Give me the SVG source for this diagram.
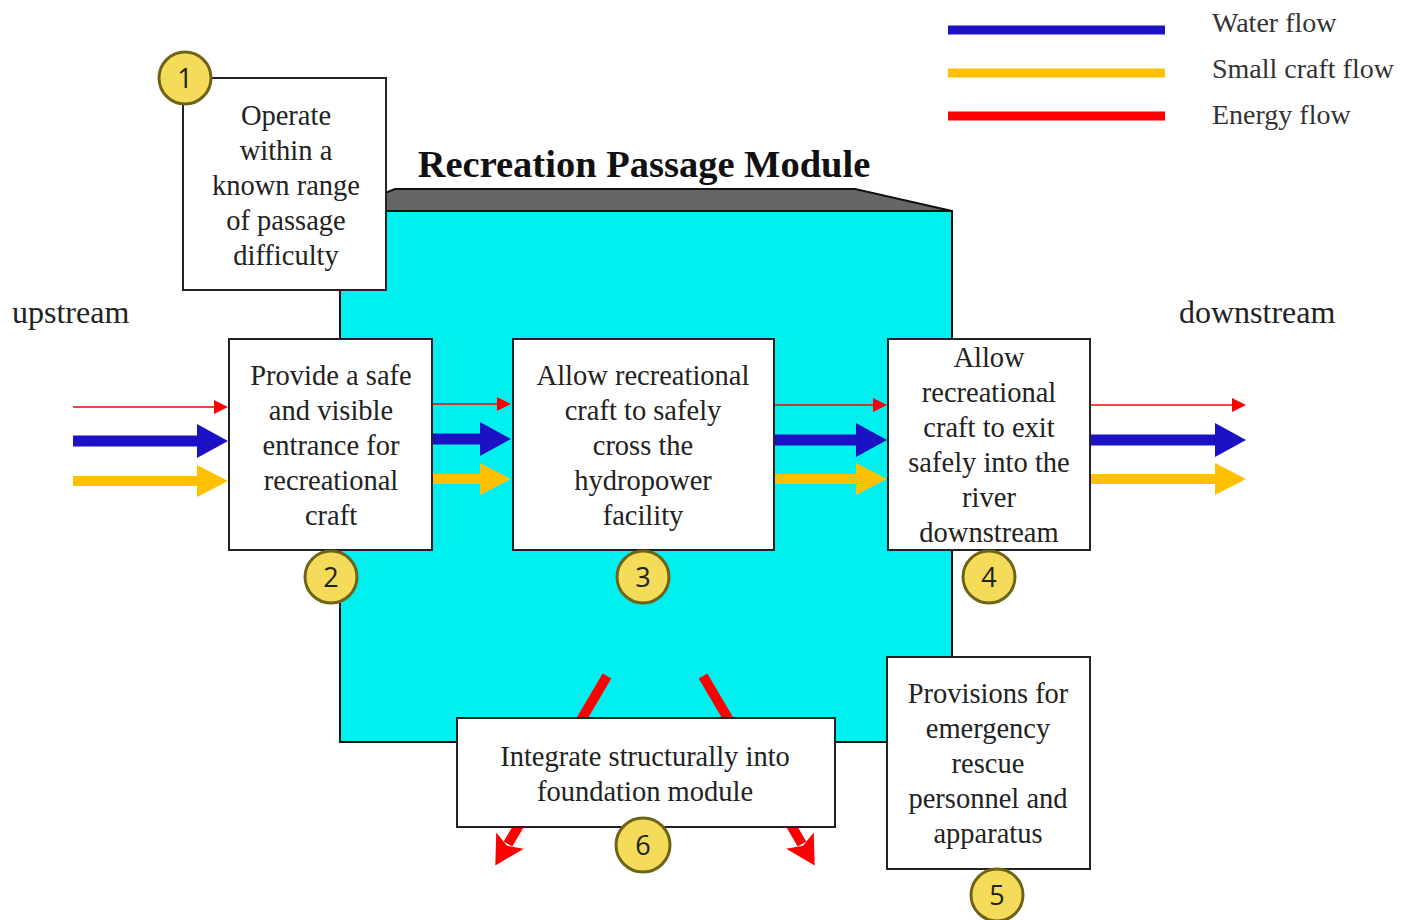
<svg xmlns="http://www.w3.org/2000/svg" width="1402" height="920" viewBox="0 0 1402 920">
  <style>
    .box { fill: #ffffff; stroke: #222222; stroke-width: 2; }
    .lbl { font-family: "Liberation Serif", "Times New Roman", serif; font-size: 28.5px; fill: #222222; text-anchor: middle; }
    .side { font-family: "Liberation Serif", "Times New Roman", serif; font-size: 32px; fill: #222222; }
    .leg { font-family: "Liberation Serif", "Times New Roman", serif; font-size: 28px; fill: #333333; }
    .badge circle { fill: #F4DC5A; stroke: #6E6418; stroke-width: 3; }
    .badge text { font-family: "Open Sans", "Noto Sans", sans-serif; font-size: 27px; fill: #222222; text-anchor: middle; }
    .energy { stroke: #FF0000; stroke-width: 1.3; fill: none; }
    .water { stroke: #1C12C4; stroke-width: 11; fill: none; }
    .craft { stroke: #FFC000; stroke-width: 10; fill: none; }
    .heavy { stroke: #FF0000; stroke-width: 10; fill: none; }
  </style>
  <defs>
    <!-- heads are anchored at their base; each shaft ends where its head begins -->
    <marker id="hEnergy" markerUnits="userSpaceOnUse" markerWidth="16" markerHeight="16" viewBox="0 0 16 16" refX="1" refY="8" orient="auto">
      <path d="M1,1 L15,8 L1,15 Z" fill="#FF0000"/>
    </marker>
    <marker id="hWater" markerUnits="userSpaceOnUse" markerWidth="32" markerHeight="34" viewBox="0 0 32 34" refX="1" refY="17" orient="auto">
      <path d="M0,0 L31,17 L0,34 Z" fill="#1C12C4"/>
    </marker>
    <marker id="hCraft" markerUnits="userSpaceOnUse" markerWidth="32" markerHeight="32" viewBox="0 0 32 32" refX="1" refY="16" orient="auto">
      <path d="M0,0 L31,16 L0,32 Z" fill="#FFC000"/>
    </marker>
    <marker id="hHeavy" markerUnits="userSpaceOnUse" markerWidth="30" markerHeight="32" viewBox="0 0 30 32" refX="4" refY="16" orient="auto">
      <path d="M0,0 L29,16 L0,32 L6,16 Z" fill="#FF0000"/>
    </marker>
  </defs>

  <rect width="1402" height="920" fill="#ffffff"/>

  <!-- legend -->
  <g id="legend">
    <line x1="948" y1="30" x2="1165" y2="30" stroke="#1C12C4" stroke-width="9"/>
    <line x1="948" y1="73" x2="1165" y2="73" stroke="#FFC000" stroke-width="9"/>
    <line x1="948" y1="116" x2="1165" y2="116" stroke="#FF0000" stroke-width="9"/>
    <text class="leg" x="1212" y="32">Water flow</text>
    <text class="leg" x="1212" y="78">Small craft flow</text>
    <text class="leg" x="1212" y="124">Energy flow</text>
  </g>

  <!-- module housing -->
  <g id="module">
    <polygon points="340,211 395,189 855,189 952,211" fill="#666666" stroke="#111111" stroke-width="2"/>
    <rect x="340" y="211" width="612" height="531" fill="#00F0F0" stroke="#111111" stroke-width="2"/>
    <text x="644" y="177" font-family="'Liberation Serif', 'Times New Roman', serif" font-size="38.5" font-weight="bold" fill="#111111" text-anchor="middle">Recreation Passage Module</text>
  </g>

  <text class="side" x="12" y="323">upstream</text>
  <text class="side" x="1179" y="323">downstream</text>

  <!-- flows -->
  <g id="connectors">
    <line class="energy" x1="73" y1="407" x2="214" y2="407" marker-end="url(#hEnergy)"/>
    <line class="water" x1="73" y1="441" x2="198" y2="441" marker-end="url(#hWater)"/>
    <line class="craft" x1="73" y1="481" x2="198" y2="481" marker-end="url(#hCraft)"/>

    <line class="energy" x1="432" y1="404" x2="497" y2="404" marker-end="url(#hEnergy)"/>
    <line class="water" x1="432" y1="439" x2="481" y2="439" marker-end="url(#hWater)"/>
    <line class="craft" x1="432" y1="479" x2="481" y2="479" marker-end="url(#hCraft)"/>

    <line class="energy" x1="774" y1="405" x2="873" y2="405" marker-end="url(#hEnergy)"/>
    <line class="water" x1="774" y1="440" x2="857" y2="440" marker-end="url(#hWater)"/>
    <line class="craft" x1="774" y1="479" x2="857" y2="479" marker-end="url(#hCraft)"/>

    <line class="energy" x1="1090" y1="405" x2="1232" y2="405" marker-end="url(#hEnergy)"/>
    <line class="water" x1="1090" y1="440" x2="1216" y2="440" marker-end="url(#hWater)"/>
    <line class="craft" x1="1090" y1="479" x2="1216" y2="479" marker-end="url(#hCraft)"/>

    <line class="heavy" x1="607" y1="676" x2="508" y2="844" marker-end="url(#hHeavy)"/>
    <line class="heavy" x1="703" y1="676" x2="802" y2="844" marker-end="url(#hHeavy)"/>
  </g>

  <!-- function 1 -->
  <g id="node1">
    <rect class="box" x="183" y="78" width="203" height="212"/>
    <text class="lbl" x="286" y="125">Operate</text>
    <text class="lbl" x="286" y="160">within a</text>
    <text class="lbl" x="286" y="195">known range</text>
    <text class="lbl" x="286" y="230">of passage</text>
    <text class="lbl" x="286" y="265">difficulty</text>
    <g class="badge"><circle cx="185" cy="78" r="26"/><text x="185" y="88">1</text></g>
  </g>

  <!-- function 2 -->
  <g id="node2">
    <rect class="box" x="229" y="339" width="203" height="211"/>
    <text class="lbl" x="331" y="385">Provide a safe</text>
    <text class="lbl" x="331" y="420">and visible</text>
    <text class="lbl" x="331" y="455">entrance for</text>
    <text class="lbl" x="331" y="490">recreational</text>
    <text class="lbl" x="331" y="525">craft</text>
    <g class="badge"><circle cx="331" cy="577" r="26"/><text x="331" y="587">2</text></g>
  </g>

  <!-- function 3 -->
  <g id="node3">
    <rect class="box" x="513" y="339" width="261" height="211"/>
    <text class="lbl" x="643" y="385">Allow recreational</text>
    <text class="lbl" x="643" y="420">craft to safely</text>
    <text class="lbl" x="643" y="455">cross the</text>
    <text class="lbl" x="643" y="490">hydropower</text>
    <text class="lbl" x="643" y="525">facility</text>
    <g class="badge"><circle cx="643" cy="577" r="26"/><text x="643" y="587">3</text></g>
  </g>

  <!-- function 4 -->
  <g id="node4">
    <rect class="box" x="888" y="339" width="202" height="211"/>
    <text class="lbl" x="989" y="367">Allow</text>
    <text class="lbl" x="989" y="402">recreational</text>
    <text class="lbl" x="989" y="437">craft to exit</text>
    <text class="lbl" x="989" y="472">safely into the</text>
    <text class="lbl" x="989" y="507">river</text>
    <text class="lbl" x="989" y="542">downstream</text>
    <g class="badge"><circle cx="989" cy="577" r="26"/><text x="989" y="587">4</text></g>
  </g>

  <!-- function 5 -->
  <g id="node5">
    <rect class="box" x="887" y="657" width="203" height="212"/>
    <text class="lbl" x="988" y="703">Provisions for</text>
    <text class="lbl" x="988" y="738">emergency</text>
    <text class="lbl" x="988" y="773">rescue</text>
    <text class="lbl" x="988" y="808">personnel and</text>
    <text class="lbl" x="988" y="843">apparatus</text>
    <g class="badge"><circle cx="997" cy="895" r="26"/><text x="997" y="905">5</text></g>
  </g>

  <!-- function 6 -->
  <g id="node6">
    <rect class="box" x="457" y="718" width="378" height="109"/>
    <text class="lbl" x="645" y="766">Integrate structurally into</text>
    <text class="lbl" x="645" y="801">foundation module</text>
    <g class="badge"><circle cx="643" cy="845" r="27"/><text x="643" y="855">6</text></g>
  </g>
</svg>
